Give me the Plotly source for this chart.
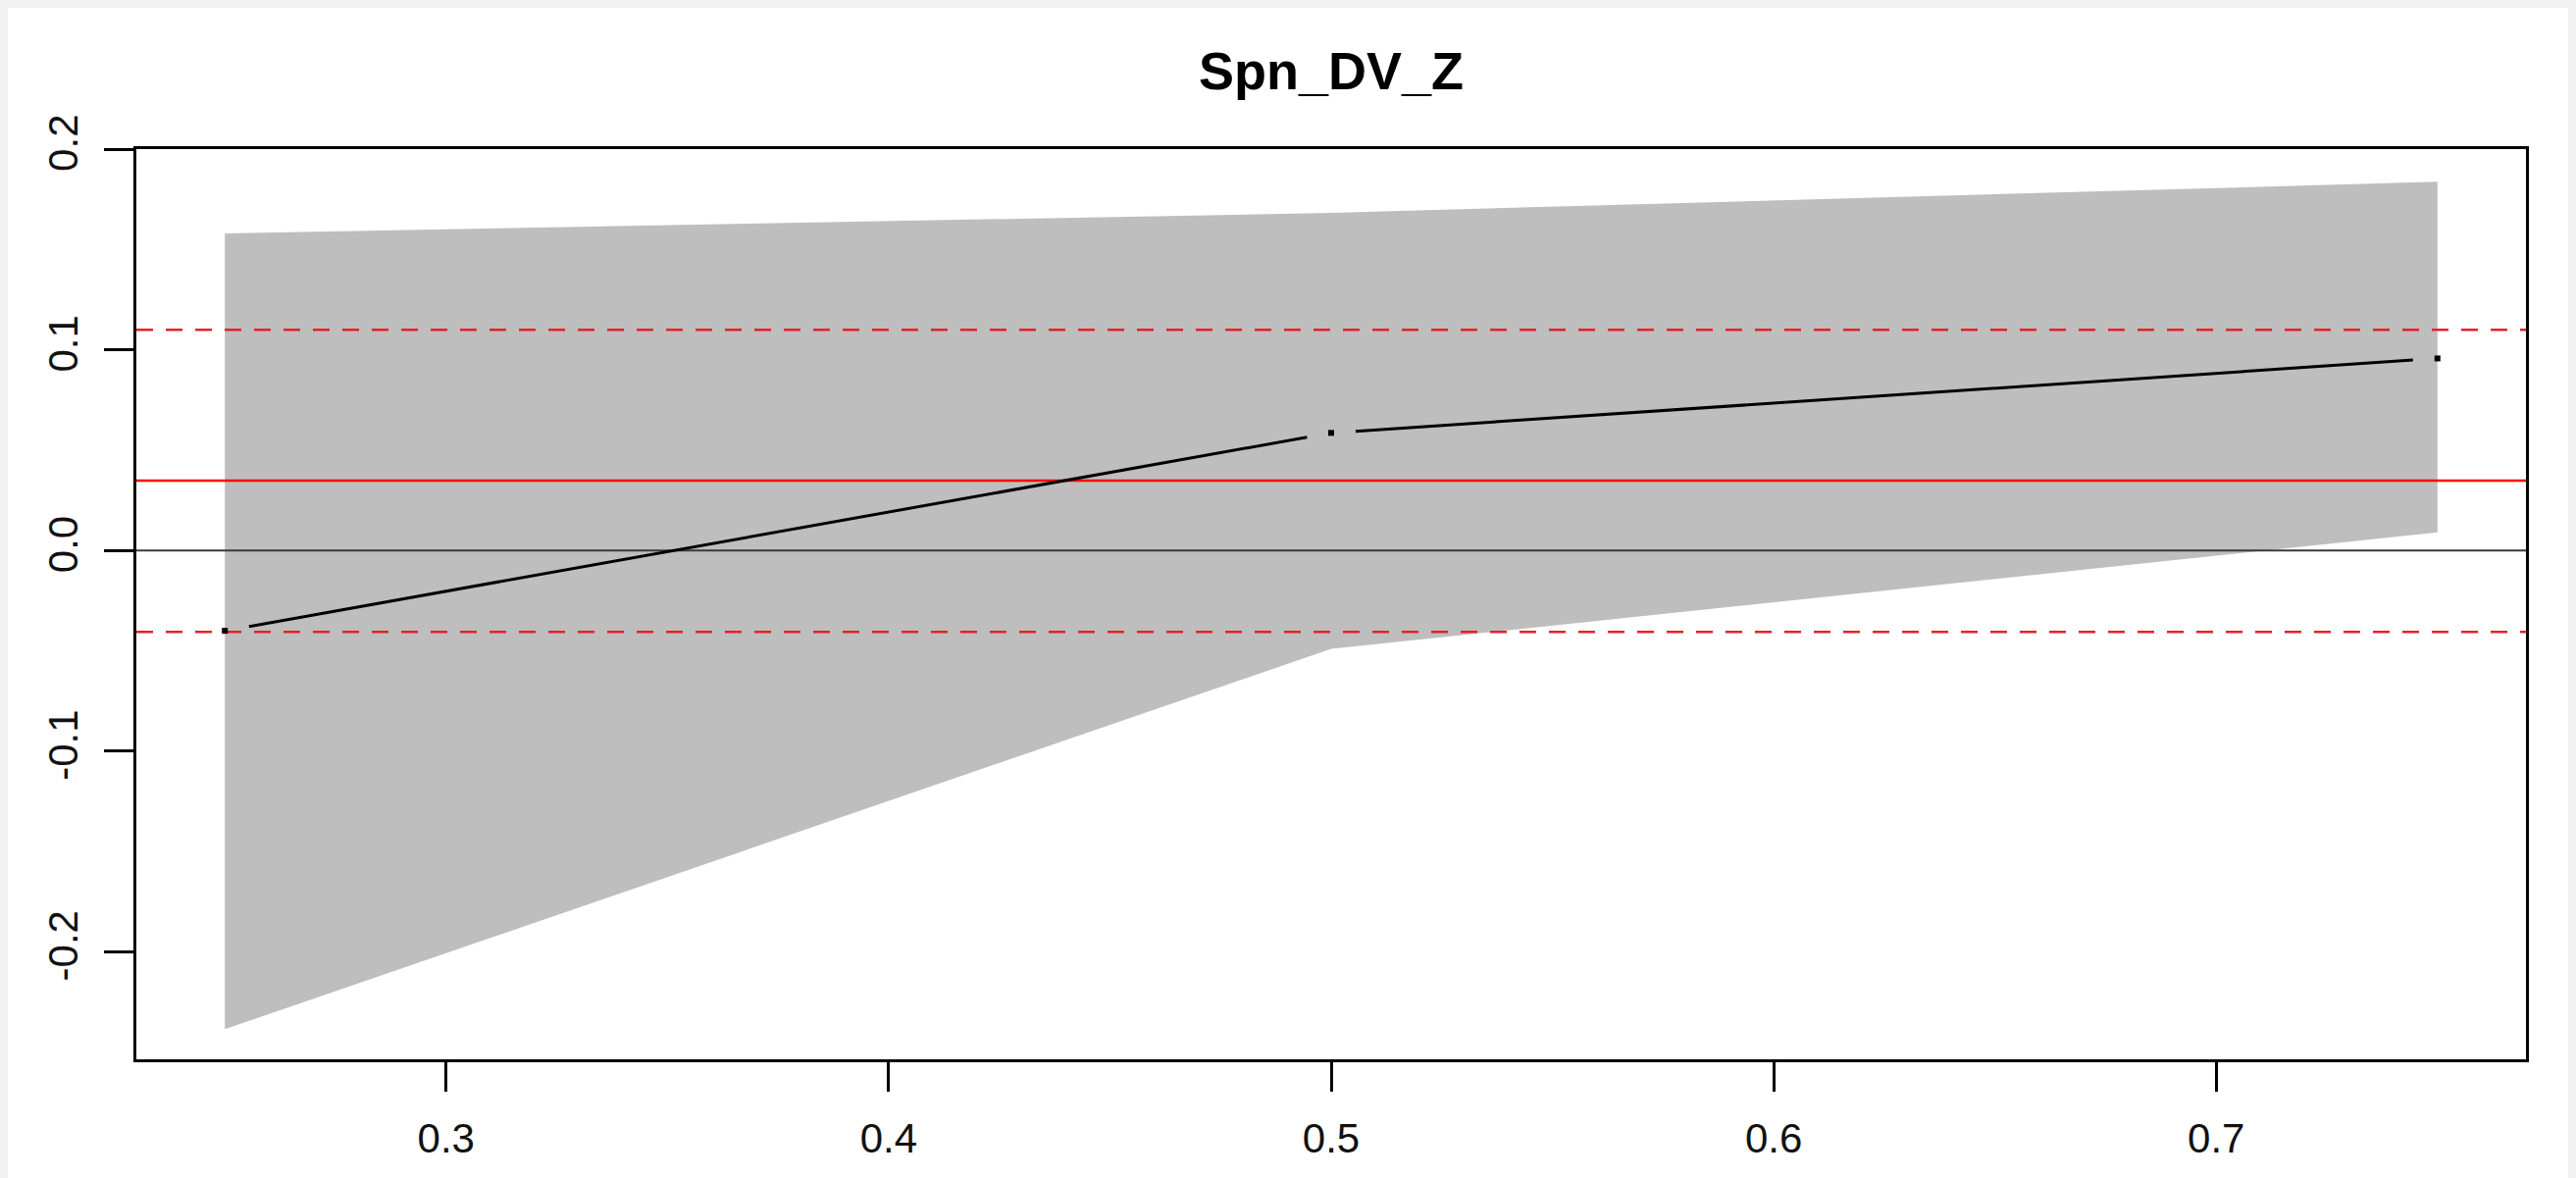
import math
import plotly.graph_objects as go

# ---- data -------------------------------------------------------------
x_vals = [0.25, 0.50, 0.75]
estimate = [-0.0400, 0.0586, 0.0957]
ci_lower = [-0.2385, -0.0490, 0.0090]
ci_upper = [0.1580, 0.1682, 0.1837]

mean_level = 0.0348
band_hi = 0.1100
band_lo = -0.0405
zero_level = 0.0

x_ticks = [0.3, 0.4, 0.5, 0.6, 0.7]
x_tick_text = ["0.3", "0.4", "0.5", "0.6", "0.7"]
y_ticks = [-0.2, -0.1, 0.0, 0.1, 0.2]
y_tick_text = ["-0.2", "-0.1", "0.0", "0.1", "0.2"]

title_text = "Spn_DV_Z"

# ---- layout geometry ----------------------------------------------------
W, H = 2626, 1201
M_L, M_R, M_T, M_B = 139, 51, 152, 121
x_range = [0.23, 0.77]
y_range = [-0.2535, 0.2000]

plot_w = W - M_L - M_R
plot_h = H - M_T - M_B
px_per_x = plot_w / (x_range[1] - x_range[0])
px_per_y = plot_h / (y_range[1] - y_range[0])

FONT = "Liberation Sans, Arial, sans-serif"

# line segments between points with a small gap around each point (R type="b")
GAP_PX = 25
seg_x, seg_y = [], []
for i in range(len(x_vals) - 1):
    dx = (x_vals[i + 1] - x_vals[i]) * px_per_x
    dy = (estimate[i + 1] - estimate[i]) * px_per_y
    length = math.hypot(dx, dy)
    t0, t1 = GAP_PX / length, 1 - GAP_PX / length
    for t in (t0, t1):
        seg_x.append(x_vals[i] + t * (x_vals[i + 1] - x_vals[i]))
        seg_y.append(estimate[i] + t * (estimate[i + 1] - estimate[i]))
    seg_x.append(None)
    seg_y.append(None)

fig = go.Figure()

# confidence band
fig.add_trace(go.Scatter(
    x=x_vals + x_vals[::-1],
    y=ci_upper + ci_lower[::-1],
    fill="toself", fillcolor="#BEBEBE",
    line=dict(width=0), mode="lines", hoverinfo="skip",
))

# reference lines
def hline(level, color, width, dash="solid"):
    fig.add_trace(go.Scatter(
        x=x_range, y=[level, level], mode="lines",
        line=dict(color=color, width=width, dash=dash), hoverinfo="skip",
    ))

hline(zero_level, "#3A3A3A", 2)
hline(mean_level, "#FF0000", 2.5)
hline(band_hi, "#E8202A", 2.5, "17px,13px")
hline(band_lo, "#E8202A", 2.5, "17px,13px")

# estimate line and points
fig.add_trace(go.Scatter(
    x=seg_x, y=seg_y, mode="lines",
    line=dict(color="black", width=3), hoverinfo="skip",
))
fig.add_trace(go.Scatter(
    x=x_vals, y=estimate, mode="markers",
    marker=dict(color="black", size=6, symbol="square"),
))

axis_common = dict(
    showgrid=False, zeroline=False,
    showline=True, mirror=True, linecolor="black", linewidth=3,
    ticks="outside", ticklen=30, tickwidth=2.5, tickcolor="black",
    tickfont=dict(family=FONT, size=42, color="#111111"),
)

# light screenshot frame around the figure
fx = lambda px: (px - M_L) / plot_w
fy = lambda py: (H - M_B - py) / plot_h

fig.update_layout(
    width=W, height=H,
    margin=dict(l=M_L, r=M_R, t=M_T, b=M_B),
    paper_bgcolor="#F2F2F2", plot_bgcolor="white",
    showlegend=False,
    title=dict(
        text=f"<b>{title_text}</b>",
        x=0.5, xref="paper", xanchor="center",
        y=1 - 72 / H, yref="container", yanchor="middle",
        font=dict(family=FONT, size=54, color="black"),
    ),
    xaxis=dict(range=x_range, tickvals=x_ticks, ticktext=x_tick_text,
               ticklabelstandoff=12, **axis_common),
    yaxis=dict(range=y_range, tickvals=y_ticks, ticktext=y_tick_text,
               tickangle=-90, ticklabelstandoff=10, **axis_common),
    shapes=[dict(
        type="rect", xref="paper", yref="paper", layer="below",
        x0=fx(8), x1=fx(W - 8), y0=fy(H + 5), y1=fy(8),
        fillcolor="white", line=dict(width=0),
    )],
)

fig.write_html("out.html")
